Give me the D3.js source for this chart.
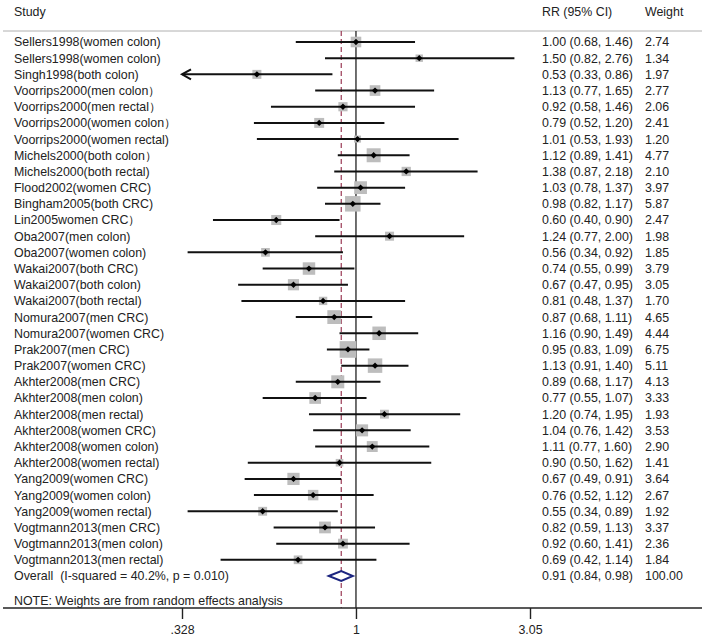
<!DOCTYPE html>
<html><head><meta charset="utf-8">
<script src="https://cdn.jsdelivr.net/npm/d3@7"></script>
<style>
html,body{margin:0;padding:0;background:#fff;}
text{font-family:"Liberation Sans",Arial,sans-serif;fill:#222;white-space:pre;}
</style></head>
<body>
<svg id="chart" width="705" height="639"></svg>
<script>
const studies = [
 "Sellers1998(women colon)","Sellers1998(women colon)","Singh1998(both colon)",
 "Voorrips2000(men colon）","Voorrips2000(men rectal）","Voorrips2000(women colon）",
 "Voorrips2000(women rectal)","Michels2000(both colon）","Michels2000(both rectal)",
 "Flood2002(women CRC)","Bingham2005(both CRC)","Lin2005women CRC）",
 "Oba2007(men colon)","Oba2007(women colon)","Wakai2007(both CRC)",
 "Wakai2007(both colon)","Wakai2007(both rectal)","Nomura2007(men CRC)",
 "Nomura2007(women CRC)","Prak2007(men CRC)","Prak2007(women CRC)",
 "Akhter2008(men CRC)","Akhter2008(men colon)","Akhter2008(men rectal)",
 "Akhter2008(women CRC)","Akhter2008(women colon)","Akhter2008(women rectal)",
 "Yang2009(women CRC)","Yang2009(women colon)","Yang2009(women rectal)",
 "Vogtmann2013(men CRC)","Vogtmann2013(men colon)","Vogtmann2013(men rectal)"
];
const rr = [1.00,1.50,0.53,1.13,0.92,0.79,1.01,1.12,1.38,1.03,0.98,0.60,1.24,0.56,0.74,0.67,0.81,0.87,1.16,0.95,1.13,0.89,0.77,1.20,1.04,1.11,0.90,0.67,0.76,0.55,0.82,0.92,0.69];
const lo = [0.68,0.82,0.33,0.77,0.58,0.52,0.53,0.89,0.87,0.78,0.82,0.40,0.77,0.34,0.55,0.47,0.48,0.68,0.90,0.83,0.91,0.68,0.55,0.74,0.76,0.77,0.50,0.49,0.52,0.34,0.59,0.60,0.42];
const hi = [1.46,2.76,0.86,1.65,1.46,1.20,1.93,1.41,2.18,1.37,1.17,0.90,2.00,0.92,0.99,0.95,1.37,1.11,1.49,1.09,1.40,1.17,1.07,1.95,1.42,1.60,1.62,0.91,1.12,0.89,1.13,1.41,1.14];
const weights = [2.74,1.34,1.97,2.77,2.06,2.41,1.20,4.77,2.10,3.97,5.87,2.47,1.98,1.85,3.79,3.05,1.70,4.65,4.44,6.75,5.11,4.13,3.33,1.93,3.53,2.90,1.41,3.64,2.67,1.92,3.37,2.36,1.84];
const overallLabel = "Overall  (I-squared = 40.2%, p = 0.010)";
const overall = {rr:0.91, lo:0.84, hi:0.98, weight:100.00};
const tickValues = [0.328, 1, 3.05];
const tickLabels = [".328", "1", "3.05"];
const noteText = "NOTE: Weights are from random effects analysis";
const clipLow = 0.33;

const svg = d3.select("#chart");
const fs = 12.4;
const x = d3.scaleLog().domain([0.328, 3.05]).range([182, 530]);
const idx = d3.range(studies.length + 1);
const y = d3.scalePoint().domain(idx).range([42, 576]);
const axisY = 608;
const boxSide = d3.scaleSqrt().domain([0, 1]).range([0, 6.4]);

// header
svg.append("text").attr("x",14).attr("y",16).attr("font-size",fs).text("Study");
svg.append("text").attr("x",542).attr("y",16).attr("font-size",fs).text("RR (95% CI)");
svg.append("text").attr("x",645).attr("y",16).attr("font-size",fs).text("Weight");
svg.append("line").attr("x1",3).attr("x2",702).attr("y1",31).attr("y2",31)
  .attr("stroke","#b0b0b0").attr("stroke-width",1);

// reference lines
svg.append("line").attr("x1",x(1)).attr("x2",x(1)).attr("y1",31).attr("y2",axisY)
  .attr("stroke","#222").attr("stroke-width",1.3);
svg.append("line").attr("x1",x(overall.rr)).attr("x2",x(overall.rr)).attr("y1",31).attr("y2",axisY)
  .attr("stroke","#9a3a55").attr("stroke-width",1.2).attr("stroke-dasharray","5,3");

// rows
const rows = svg.append("g");
studies.forEach((s,i)=>{
  const cy = y(i);
  rows.append("text").attr("x",14).attr("y",cy).attr("dy","0.36em").attr("font-size",fs).text(s);
  rows.append("text").attr("x",542).attr("y",cy).attr("dy","0.36em").attr("font-size",fs)
    .text(`${rr[i].toFixed(2)} (${lo[i].toFixed(2)}, ${hi[i].toFixed(2)})`);
  rows.append("text").attr("x",645).attr("y",cy).attr("dy","0.36em").attr("font-size",fs)
    .text(weights[i].toFixed(2));
  const side = boxSide(weights[i]);
  rows.append("rect").attr("x",x(rr[i])-side/2).attr("y",cy-side/2)
    .attr("width",side).attr("height",side).attr("fill","#bdbdbd");
});
studies.forEach((s,i)=>{
  const cy = y(i);
  const clipped = lo[i] <= clipLow;
  const x1 = clipped ? x.range()[0] : x(lo[i]);
  rows.append("line").attr("x1",x1).attr("x2",x(hi[i])).attr("y1",cy).attr("y2",cy)
    .attr("stroke","#111").attr("stroke-width",2);
  if (clipped) {
    rows.append("path")
      .attr("d",`M${x1+9},${cy-5}L${x1},${cy}L${x1+9},${cy+5}`)
      .attr("fill","none").attr("stroke","#111").attr("stroke-width",2);
  }
  rows.append("path").attr("transform",`translate(${x(rr[i])},${cy}) rotate(45)`)
    .attr("d", d3.symbol(d3.symbolSquare, 20)()).attr("fill","#000");
});

// overall
const oy = y(studies.length);
svg.append("text").attr("x",14).attr("y",oy).attr("dy","0.36em").attr("font-size",fs).text(overallLabel);
svg.append("text").attr("x",542).attr("y",oy).attr("dy","0.36em").attr("font-size",fs)
  .text(`${overall.rr.toFixed(2)} (${overall.lo.toFixed(2)}, ${overall.hi.toFixed(2)})`);
svg.append("text").attr("x",645).attr("y",oy).attr("dy","0.36em").attr("font-size",fs)
  .text(overall.weight.toFixed(2));
svg.append("path")
  .attr("d",`M${x(overall.lo)},${oy}L${x(overall.rr)},${oy-5}L${x(overall.hi)},${oy}L${x(overall.rr)},${oy+5}Z`)
  .attr("fill","#fff").attr("stroke","#1c2580").attr("stroke-width",2);

// note
svg.append("text").attr("x",14).attr("y",601).attr("dy","0.36em").attr("font-size",fs).text(noteText);

// axis
svg.append("line").attr("x1",3).attr("x2",702).attr("y1",axisY).attr("y2",axisY)
  .attr("stroke","#222").attr("stroke-width",1.4);
const axis = d3.axisBottom(x).tickValues(tickValues)
  .tickFormat((d,i)=>tickLabels[i]).tickSize(11).tickPadding(6);
const ag = svg.append("g").attr("transform",`translate(0,${axisY})`).call(axis);
ag.select(".domain").remove();
ag.selectAll(".tick line").attr("stroke","#222").attr("stroke-width",1.4);
ag.selectAll(".tick text").attr("font-size",fs).attr("font-family","Liberation Sans, Arial, sans-serif").attr("fill","#222");
</script>
</body></html>
